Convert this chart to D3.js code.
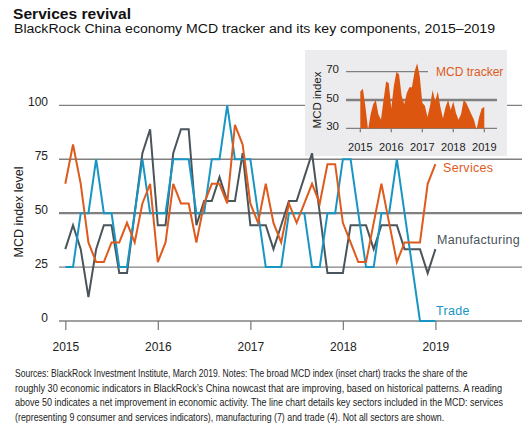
<!DOCTYPE html>
<html lang="en">
<head>
<meta charset="UTF-8">
<title>Services revival</title>
<script src="https://cdn.jsdelivr.net/npm/d3@7/dist/d3.min.js"></script>
<style>
  body { margin: 0; background: #fff; }
  svg { display: block; font-family: "Liberation Sans", Arial, sans-serif; }
  .grid line { stroke: #808080; stroke-width: 1.3; }
  .grid line.mid { stroke-width: 2.4; }
  .axis path { display: none; }
  .axis line { stroke: #808080; stroke-width: 1.3; }
  .axis text { fill: #222; }
  .series { fill: none; stroke-width: 2; stroke-linejoin: miter; }
  .foot { font-family: "Liberation Sans Narrow", "Arial Narrow", "Liberation Sans", sans-serif; font-size: 10px; fill: #222; }
</style>
</head>
<body>
<svg id="chart" width="529" height="431"></svg>
<script>
// monthly readings, Jan 2015 .. Jan 2019
var services = [63.6, 81.8, 63.6, 36.4, 27.3, 27.3, 36.4, 36.4, 45.5, 36.4, 54.5, 63.6,
                27.3, 36.4, 63.6, 54.5, 54.5, 36.4, 54.5, 63.6, 63.6, 54.5, 90.9, 81.8,
                54.5, 45.5, 63.6, 45.5, 36.4, 54.5, 45.5, 54.5, 63.6, 54.5, 72.7, 72.7,
                45.5, 36.4, 27.3, 27.3, 45.5, 63.6, 45.5, 27.3, 36.4, 36.4, 36.4, 63.6,
                72.7];
var manufacturing = [33.3, 44.4, 33.3, 11.1, 33.3, 44.4, 44.4, 22.2, 22.2, 50, 77.8, 88.9,
                     44.4, 44.4, 77.8, 88.9, 88.9, 44.4, 55.6, 55.6, 66.7, 55.6, 55.6, 77.8,
                     44.4, 44.4, 44.4, 33.3, 44.4, 55.6, 55.6, 66.7, 77.8, 50, 22.2, 22.2,
                     22.2, 44.4, 44.4, 44.4, 33.3, 44.4, 44.4, 44.4, 33.3, 33.3, 33.3, 22.2,
                     33.3];
var trade = [25, 25, 50, 50, 75, 50, 50, 25, 25, 50, 75, 50,
             50, 50, 75, 75, 75, 50, 50, 75, 75, 100, 75, 75,
             75, 50, 25, 25, 25, 50, 50, 50, 25, 25, 50, 50,
             75, 75, 50, 25, 25, 50, 50, 75, 50, 25, 0, 0,
             0];
// inset: broad MCD tracker
var mcdTracker = [56, 58, 45, 29, 40, 47, 50, 40, 36, 50, 63, 62,
                  44, 60, 70, 68, 53, 47, 55, 59, 59, 70, 76, 67,
                  48, 46, 38, 46, 57, 49, 56, 45, 37, 45, 50, 43,
                  49, 41, 36, 40, 50, 48, 44, 40, 36, 29, 38, 44,
                  45];
var yearTicks = [0, 12, 24, 36, 48];
var yearLabels = ["2015", "2016", "2017", "2018", "2019"];
var mainYTicks = [0, 25, 50, 75, 100];
var insetYTicks = [30, 50, 70];

var colors = { services: "#de5a1d", manufacturing: "#4a545b", trade: "#1896c3" };

var svg = d3.select("#chart");

// titles
svg.append("text").attr("x", 13).attr("y", 19)
   .attr("font-size", 15).attr("font-weight", "bold").attr("fill", "#111")
   .attr("textLength", 118).attr("lengthAdjust", "spacingAndGlyphs")
   .text("Services revival");
svg.append("text").attr("x", 14).attr("y", 33)
   .attr("font-size", 12).attr("fill", "#111")
   .attr("textLength", 481).attr("lengthAdjust", "spacingAndGlyphs")
   .text("BlackRock China economy MCD tracker and its key components, 2015\u20132019");

// main scales
var x = d3.scaleLinear().domain([0, 48]).range([65.3, 435.4]);
var y = d3.scaleLinear().domain([0, 100]).range([321, 105.3]);

var grid = svg.append("g").attr("class", "grid");
grid.selectAll("line").data(mainYTicks).enter().append("line")
    .attr("class", d => d === 50 ? "mid" : null)
    .attr("x1", 59).attr("x2", 522)
    .attr("y1", d => y(d)).attr("y2", d => y(d));

svg.append("g").attr("class", "axis")
   .attr("transform", "translate(48,0)")
   .call(d3.axisLeft(y).tickValues(mainYTicks).tickSize(0).tickPadding(0))
   .selectAll("text").attr("font-size", 12).attr("dy", "0.05em");

svg.append("g").attr("class", "axis")
   .attr("transform", "translate(0," + y(0) + ")")
   .call(d3.axisBottom(x).tickValues(yearTicks).tickFormat((d, i) => yearLabels[i])
         .tickSize(9).tickPadding(12))
   .selectAll("text").attr("font-size", 12);

svg.append("text")
   .attr("transform", "translate(23,212) rotate(-90)")
   .attr("text-anchor", "middle").attr("font-size", 12.5).attr("fill", "#222")
   .text("MCD index level");

// inset
var ix = d3.scaleLinear().domain([0, 48]).range([360.3, 484.3]);
var iy = d3.scaleLinear().domain([30, 70]).range([128.3, 71.7]);

svg.append("rect").attr("x", 305).attr("y", 50).attr("width", 202).attr("height", 106)
   .attr("fill", "#ececee");

var ig = svg.append("g");
ig.selectAll("line.ig").data(insetYTicks).enter().append("line")
  .attr("x1", 346).attr("x2", d => d === 70 ? 428 : 497)
  .attr("y1", d => iy(d)).attr("y2", d => iy(d))
  .attr("stroke", "#808080").attr("stroke-width", d => d === 50 ? 2.4 : 1.3);

var area = d3.area().x((d, i) => ix(i)).y0(iy(30)).y1(d => iy(d));
ig.append("path").datum(mcdTracker).attr("d", area).attr("fill", "#dc5610");

ig.selectAll("line.tick").data(yearTicks).enter().append("line")
  .attr("x1", d => ix(d)).attr("x2", d => ix(d))
  .attr("y1", iy(30)).attr("y2", iy(30) + 4)
  .attr("stroke", "#808080").attr("stroke-width", 1.3);

ig.selectAll("text.xl").data(yearTicks).enter().append("text")
  .attr("x", d => ix(d)).attr("y", 151)
  .attr("text-anchor", "middle").attr("font-size", 11).attr("fill", "#222")
  .text((d, i) => yearLabels[i]);

ig.selectAll("text.yl").data(insetYTicks).enter().append("text")
  .attr("x", 339).attr("y", d => iy(d) + 1.5)
  .attr("text-anchor", "end").attr("font-size", 11.5).attr("fill", "#222")
  .text(d => d);

ig.append("text")
  .attr("transform", "translate(321,100) rotate(-90)")
  .attr("text-anchor", "middle").attr("font-size", 11.5).attr("fill", "#222")
  .text("MCD index");

ig.append("text").attr("x", 436).attr("y", 76)
  .attr("font-size", 12).attr("fill", colors.services)
  .text("MCD tracker");

// series lines
var line = d3.line().x((d, i) => x(i)).y(d => y(d));
var seriesList = [
  { name: "Manufacturing", values: manufacturing, color: colors.manufacturing, lx: 437, lv: 38 },
  { name: "Trade", values: trade, color: colors.trade, lx: 436, lv: 5 },
  { name: "Services", values: services, color: colors.services, lx: 443, lv: 71 }
];
seriesList.forEach(function(s) {
  svg.append("path").datum(s.values).attr("class", "series")
     .attr("stroke", s.color).attr("d", line);
  svg.append("text").attr("x", s.lx).attr("y", y(s.lv) + 4.5)
     .attr("font-size", 12.5).attr("fill", s.color)
     .attr("letter-spacing", 0.3)
     .text(s.name);
});

// footnote: squeeze each line horizontally to the reference width
var footLines = [
  "Sources:  BlackRock Investment Institute, March 2019. Notes: The broad MCD index (inset chart) tracks the share of the",
  "roughly 30 economic indicators in BlackRock\u2019s China nowcast that are improving, based on historical patterns. A reading",
  "above 50 indicates a net improvement in economic activity. The line chart details key sectors included in the MCD: services",
  "(representing 9 consumer and services indicators), manufacturing (7) and trade (4). Not all sectors are shown."
];
var footWidths = [453, 488, 488, 430];
svg.selectAll("text.foot").data(footLines).enter().append("text")
   .attr("class", "foot")
   .text(d => d)
   .attr("transform", function(d, i) {
     var w = this.getComputedTextLength();
     var k = Math.min(1, footWidths[i] / w);
     return "translate(15," + (377 + i * 14.7) + ") scale(" + k + ",1)";
   });
</script>
</body>
</html>
